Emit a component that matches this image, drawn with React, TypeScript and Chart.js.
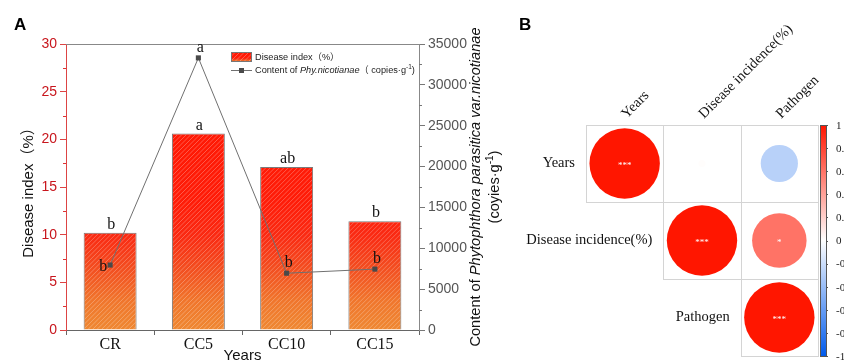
import React, { useEffect, useRef } from 'react';
import { Chart, registerables } from 'chart.js';

Chart.register(...registerables);

// ---------- Panel A data ----------
const categories = ['CR', 'CC5', 'CC10', 'CC15'];
const diseaseIndex = [10.2, 20.6, 17.1, 11.4];
const pathogenContent = [7950, 33300, 6950, 7450];
const barLetters = ['b', 'a', 'ab', 'b'];
const lineLetters = ['b', 'a', 'b', 'b'];
const leftTicksMax = 30;
const rightTicksMax = 35000;

// ---------- Panel B data ----------
const corrVars = ['Years', 'Disease incidence(%)', 'Pathogen'];
const corrMatrix = [
  [1, 0.01, -0.28],
  [0.01, 1, 0.6],
  [-0.28, 0.6, 1],
];
const corrStars = [
  ['***', '', ''],
  ['', '***', '*'],
  ['', '', '***'],
];
const colorbarTicks = [1, 0.8, 0.6, 0.4, 0.2, 0, -0.2, -0.4, -0.6, -0.8, -1];

const SANS = '"Liberation Sans", Arial, "Noto Sans CJK SC", sans-serif';
const SERIF = '"Liberation Serif", "Times New Roman", serif';

function corrColor(v: number): string {
  const t = Math.min(1, Math.abs(v));
  const end = v >= 0 ? [255, 22, 0] : [0, 90, 235];
  const c = [0, 1, 2].map((i) => Math.round(255 + (end[i] - 255) * t));
  return `rgb(${c[0]},${c[1]},${c[2]})`;
}

function barGradient(ctx: CanvasRenderingContext2D, top: number, bottom: number) {
  const g = ctx.createLinearGradient(0, bottom, 0, top);
  g.addColorStop(0, '#ef8832');
  g.addColorStop(0.1, '#f0762c');
  g.addColorStop(0.22, '#f34c1f');
  g.addColorStop(0.33, '#fa2a12');
  g.addColorStop(0.45, '#ff1c08');
  g.addColorStop(1, '#ff1600');
  return g;
}

function drawHatch(ctx: CanvasRenderingContext2D, left: number, top: number, w: number, h: number) {
  ctx.save();
  ctx.beginPath();
  ctx.rect(left, top, w, h);
  ctx.clip();
  ctx.strokeStyle = 'rgba(255,255,255,0.28)';
  ctx.lineWidth = 1;
  ctx.beginPath();
  for (let k = -h; k < w + h; k += 4.5) {
    ctx.moveTo(left + k, top + h);
    ctx.lineTo(left + k + h, top);
  }
  ctx.stroke();
  ctx.restore();
}

function PanelA() {
  const ref = useRef<HTMLCanvasElement>(null);
  useEffect(() => {
    const canvas = ref.current!;
    const plugin = {
      id: 'panelA',
      afterDatasetDraw(chart: any, args: any) {
        if (args.index !== 0) return;
        const ctx = chart.ctx;
        args.meta.data.forEach((el: any) => {
          const { x, y, base, width } = el.getProps(['x', 'y', 'base', 'width'], true);
          drawHatch(ctx, x - width / 2 + 1, y + 1, width - 2, base - y - 1);
        });
      },
      afterDraw(chart: any) {
        const ctx: CanvasRenderingContext2D = chart.ctx;
        const ca = chart.chartArea;
        const yS = chart.scales.y;
        const y1S = chart.scales.y1;
        ctx.save();
        // top frame line
        ctx.strokeStyle = '#888';
        ctx.lineWidth = 1;
        ctx.beginPath();
        ctx.moveTo(ca.left, ca.top + 0.5);
        ctx.lineTo(ca.right, ca.top + 0.5);
        ctx.stroke();
        // minor ticks
        ctx.strokeStyle = '#d33';
        ctx.beginPath();
        for (let v = 2.5; v < leftTicksMax; v += 5) {
          const p = Math.round(yS.getPixelForValue(v)) + 0.5;
          ctx.moveTo(ca.left - 3, p);
          ctx.lineTo(ca.left, p);
        }
        ctx.stroke();
        ctx.strokeStyle = '#777';
        ctx.beginPath();
        for (let v = 2500; v < rightTicksMax; v += 5000) {
          const p = Math.round(y1S.getPixelForValue(v)) + 0.5;
          ctx.moveTo(ca.right, p);
          ctx.lineTo(ca.right + 3, p);
        }
        ctx.stroke();

        // letters on bars
        ctx.fillStyle = '#111';
        ctx.font = `16px ${SERIF}`;
        ctx.textAlign = 'center';
        ctx.textBaseline = 'alphabetic';
        const barMeta = chart.getDatasetMeta(0);
        barMeta.data.forEach((el: any, i: number) => {
          const { x, y } = el.getProps(['x', 'y'], true);
          ctx.fillText(barLetters[i], x + 1, y - 4);
        });
        const lineMeta = chart.getDatasetMeta(1);
        lineMeta.data.forEach((el: any, i: number) => {
          const { x, y } = el.getProps(['x', 'y'], true);
          if (i === 0) {
            ctx.textAlign = 'right';
            ctx.fillText(lineLetters[i], x - 3, y + 6);
          } else {
            ctx.textAlign = 'center';
            ctx.fillText(lineLetters[i], x + 2, y - 6);
          }
        });

        // legend
        const lx = 231;
        const ly = 52;
        ctx.fillStyle = barGradient(ctx, ly, ly + 10);
        ctx.fillRect(lx, ly, 21, 10);
        drawHatch(ctx, lx, ly, 21, 10);
        ctx.strokeStyle = '#777';
        ctx.strokeRect(lx + 0.5, ly + 0.5, 20, 9);
        ctx.strokeStyle = '#707070';
        ctx.beginPath();
        ctx.moveTo(lx, ly + 18.5);
        ctx.lineTo(lx + 21, ly + 18.5);
        ctx.stroke();
        ctx.fillStyle = '#4a4a4a';
        ctx.fillRect(lx + 8, ly + 16, 5, 5);
        ctx.fillStyle = '#222';
        ctx.textAlign = 'left';
        ctx.textBaseline = 'middle';
        const LF = 9.2;
        ctx.font = `${LF}px ${SANS}`;
        ctx.fillText(chart.data.datasets[0].label, lx + 24, ly + 5);
        let tx = lx + 24;
        const parts: [string, boolean][] = [
          ['Content of ', false],
          ['Phy.nicotianae', true],
          ['（ copies·g', false],
        ];
        parts.forEach(([s, it]) => {
          ctx.font = `${it ? 'italic ' : ''}${LF}px ${SANS}`;
          ctx.fillText(s, tx, ly + 18);
          tx += ctx.measureText(s).width;
        });
        ctx.font = `6.5px ${SANS}`;
        ctx.fillText('-1', tx, ly + 15);
        tx += ctx.measureText('-1').width;
        ctx.font = `${LF}px ${SANS}`;
        ctx.fillText(')', tx, ly + 18);

        // axis titles
        ctx.fillStyle = '#111';
        ctx.font = `15px ${SANS}`;
        ctx.textAlign = 'center';
        ctx.textBaseline = 'middle';
        ctx.fillText('Years', (ca.left + ca.right) / 2, 356);
        ctx.save();
        ctx.translate(29, 189);
        ctx.rotate(-Math.PI / 2);
        ctx.fillText('Disease index（%）', 0, 0);
        ctx.restore();

        // right title, mixed italic
        const RF = 14.6;
        ctx.save();
        ctx.translate(476, 187);
        ctx.rotate(-Math.PI / 2);
        const rparts: [string, boolean][] = [
          ['Content of ', false],
          ['Phytophthora parasitica var.nicotianae', true],
        ];
        let total = 0;
        rparts.forEach(([s, it]) => {
          ctx.font = `${it ? 'italic ' : ''}${RF}px ${SANS}`;
          total += ctx.measureText(s).width;
        });
        let px = -total / 2;
        ctx.textAlign = 'left';
        rparts.forEach(([s, it]) => {
          ctx.font = `${it ? 'italic ' : ''}${RF}px ${SANS}`;
          ctx.fillText(s, px, 0);
          px += ctx.measureText(s).width;
        });
        ctx.restore();
        ctx.save();
        ctx.translate(495, 187);
        ctx.rotate(-Math.PI / 2);
        const a1 = '(coyies·g';
        ctx.font = `${RF}px ${SANS}`;
        const w1 = ctx.measureText(a1).width;
        ctx.font = `10px ${SANS}`;
        const w2 = ctx.measureText('-1').width;
        ctx.font = `${RF}px ${SANS}`;
        const w3 = ctx.measureText(')').width;
        let qx = -(w1 + w2 + w3) / 2;
        ctx.textAlign = 'left';
        ctx.fillText(a1, qx, 0);
        qx += w1;
        ctx.font = `10px ${SANS}`;
        ctx.fillText('-1', qx, -5);
        qx += w2;
        ctx.font = `${RF}px ${SANS}`;
        ctx.fillText(')', qx, 0);
        ctx.restore();

        // panel label
        ctx.font = `bold 17px ${SANS}`;
        ctx.textAlign = 'left';
        ctx.textBaseline = 'alphabetic';
        ctx.fillStyle = '#000';
        ctx.fillText('A', 14, 30);
        ctx.restore();
      },
    };

    const chart = new Chart(canvas, {
      type: 'bar',
      data: {
        labels: categories,
        datasets: [
          {
            type: 'bar',
            label: 'Disease index（%）',
            data: diseaseIndex,
            yAxisID: 'y',
            order: 1,
            backgroundColor: (c: any) => {
              const ca = c.chart.chartArea;
              if (!ca) return '#f33';
              return barGradient(c.chart.ctx, ca.top, ca.bottom);
            },
            borderColor: '#7a7a7a',
            borderWidth: 1,
            borderSkipped: 'bottom',
            barPercentage: 0.6,
            categoryPercentage: 1,
          },
          {
            type: 'line',
            label: 'Content of Phy.nicotianae',
            data: pathogenContent,
            yAxisID: 'y1',
            order: 0,
            borderColor: '#707070',
            borderWidth: 1,
            pointStyle: 'rect',
            pointRadius: 3.6,
            pointBackgroundColor: '#4a4a4a',
            pointBorderColor: '#4a4a4a',
            pointBorderWidth: 0,
          },
        ] as any,
      },
      options: {
        responsive: false,
        animation: false,
        layout: { padding: { top: 44, left: 0, right: 0, bottom: 0 } },
        plugins: { legend: { display: false }, tooltip: { enabled: false } },
        scales: {
          x: {
            grid: { offset: true, drawOnChartArea: false, tickLength: 5, color: '#666' },
            border: { color: '#666' },
            ticks: { color: '#111', font: { family: SERIF, size: 16 }, padding: 0 },
            afterFit: (s: any) => {
              s.height = 30;
            },
          },
          y: {
            position: 'left',
            min: 0,
            max: leftTicksMax,
            ticks: {
              stepSize: 5,
              color: '#c8161d',
              font: { family: SANS, size: 14 },
              padding: 3,
              callback: (v: any) => String(v),
            },
            grid: { drawOnChartArea: false, tickLength: 6, color: '#d44' },
            border: { color: '#d44' },
            afterFit: (s: any) => {
              s.width = 66;
            },
          },
          y1: {
            position: 'right',
            min: 0,
            max: rightTicksMax,
            ticks: {
              stepSize: 5000,
              color: '#555',
              font: { family: SANS, size: 14 },
              padding: 3,
              callback: (v: any) => String(v),
            },
            grid: { drawOnChartArea: false, tickLength: 6, color: '#777' },
            border: { color: '#888' },
            afterFit: (s: any) => {
              s.width = 101;
            },
          },
        },
      } as any,
      plugins: [plugin],
    });
    return () => chart.destroy();
  }, []);
  return (
    <canvas ref={ref} width={520} height={360} style={{ position: 'absolute', left: 0, top: 0 }} />
  );
}

function PanelB() {
  const ref = useRef<HTMLCanvasElement>(null);
  useEffect(() => {
    const canvas = ref.current!;
    const points: any[] = [];
    corrMatrix.forEach((row, i) =>
      row.forEach((v, j) => {
        if (j >= i) points.push({ x: j + 1, y: i + 1, v, stars: corrStars[i][j] });
      })
    );
    const cellPx = (chart: any) =>
      Math.abs(chart.scales.x.getPixelForValue(1) - chart.scales.x.getPixelForValue(0));

    const plugin = {
      id: 'panelB',
      beforeDatasetsDraw(chart: any) {
        const ctx: CanvasRenderingContext2D = chart.ctx;
        const xs = chart.scales.x;
        const ys = chart.scales.y;
        ctx.save();
        ctx.strokeStyle = '#d4d4d4';
        ctx.lineWidth = 1;
        for (let i = 0; i < corrVars.length; i++) {
          for (let j = i; j < corrVars.length; j++) {
            const l = Math.round(xs.getPixelForValue(j + 0.5)) + 0.5;
            const r = Math.round(xs.getPixelForValue(j + 1.5)) + 0.5;
            const t = Math.round(ys.getPixelForValue(i + 0.5)) + 0.5;
            const b = Math.round(ys.getPixelForValue(i + 1.5)) + 0.5;
            ctx.strokeRect(l, t, r - l, b - t);
          }
        }
        ctx.restore();
      },
      afterDraw(chart: any) {
        const ctx: CanvasRenderingContext2D = chart.ctx;
        const xs = chart.scales.x;
        const ys = chart.scales.y;
        const ca = chart.chartArea;
        ctx.save();
        // stars
        ctx.fillStyle = '#fff';
        ctx.font = `9px ${SERIF}`;
        ctx.textAlign = 'center';
        ctx.textBaseline = 'middle';
        points.forEach((p) => {
          if (p.stars) ctx.fillText(p.stars, xs.getPixelForValue(p.x), ys.getPixelForValue(p.y) + 2);
        });
        // row labels
        ctx.fillStyle = '#111';
        ctx.font = `14.5px ${SERIF}`;
        ctx.textAlign = 'right';
        corrVars.forEach((name, i) => {
          ctx.fillText(name, xs.getPixelForValue(i + 0.5) - 11, ys.getPixelForValue(i + 1));
        });
        // column labels
        ctx.textAlign = 'left';
        ctx.textBaseline = 'alphabetic';
        corrVars.forEach((name, j) => {
          ctx.save();
          ctx.translate(xs.getPixelForValue(j + 1) + 2, ca.top - 6);
          ctx.rotate(-Math.PI / 4);
          ctx.fillText(name, 0, 0);
          ctx.restore();
        });
        // colorbar
        const cbL = ca.right + 2;
        const cbW = 6;
        const g = ctx.createLinearGradient(0, ca.top, 0, ca.bottom);
        g.addColorStop(0, corrColor(1));
        g.addColorStop(0.5, corrColor(0));
        g.addColorStop(1, corrColor(-1));
        ctx.fillStyle = g;
        ctx.fillRect(cbL, ca.top, cbW, ca.bottom - ca.top);
        ctx.strokeStyle = '#555';
        ctx.lineWidth = 1;
        ctx.strokeRect(cbL + 0.5, ca.top + 0.5, cbW, ca.bottom - ca.top);
        ctx.fillStyle = '#222';
        ctx.font = `11px ${SERIF}`;
        ctx.textAlign = 'left';
        ctx.textBaseline = 'middle';
        colorbarTicks.forEach((v) => {
          const y = ca.top + ((1 - v) / 2) * (ca.bottom - ca.top);
          ctx.beginPath();
          ctx.moveTo(cbL + cbW, Math.round(y) + 0.5);
          ctx.lineTo(cbL + cbW + 2, Math.round(y) + 0.5);
          ctx.stroke();
          ctx.fillText(String(v), cbL + cbW + 10, y + 1);
        });
        // panel label
        ctx.fillStyle = '#000';
        ctx.font = `bold 17px ${SANS}`;
        ctx.textBaseline = 'alphabetic';
        ctx.fillText('B', -1, 30);
        ctx.restore();
      },
    };

    const chart = new Chart(canvas, {
      type: 'scatter',
      data: {
        datasets: [
          {
            data: points,
            showLine: false,
            pointStyle: 'circle',
            pointBackgroundColor: (c: any) => corrColor(c.raw ? c.raw.v : 0),
            pointBorderWidth: 0,
            pointBorderColor: 'rgba(0,0,0,0)',
            pointRadius: (c: any) => {
              if (!c.raw || !c.chart.scales.x) return 0;
              return (cellPx(c.chart) / 2) * 0.91 * Math.sqrt(Math.abs(c.raw.v));
            },
          },
        ],
      },
      options: {
        responsive: false,
        animation: false,
        layout: { padding: { top: 125, left: 66, right: 26, bottom: 4 } },
        plugins: { legend: { display: false }, tooltip: { enabled: false } },
        scales: {
          x: { type: 'linear', min: 0.5, max: 3.5, display: false },
          y: { type: 'linear', min: 0.5, max: 3.5, reverse: true, display: false },
        },
      } as any,
      plugins: [plugin],
    });
    return () => chart.destroy();
  }, []);
  return (
    <canvas ref={ref} width={324} height={360} style={{ position: 'absolute', left: 520, top: 0 }} />
  );
}

export default function App() {
  return (
    <div
      style={{
        position: 'absolute',
        left: 0,
        top: 0,
        width: 844,
        height: 360,
        background: '#fff',
        overflow: 'hidden',
      }}
    >
      <PanelA />
      <PanelB />
    </div>
  );
}
